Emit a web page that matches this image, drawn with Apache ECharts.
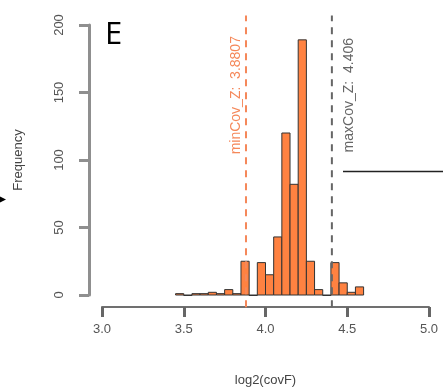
<!DOCTYPE html>
<html>
<head>
<meta charset="utf-8">
<script src="https://cdn.jsdelivr.net/npm/echarts@6/dist/echarts.min.js"></script>
<style>
html,body{margin:0;padding:0;background:#fff;}
#chart{width:443px;height:391px;}
</style>
</head>
<body>
<div id="chart"></div>
<script>
// Histogram bins (left edge, right edge) and frequencies
const binStarts = [3.45,3.50,3.55,3.60,3.65,3.70,3.75,3.80,3.85,3.90,3.95,4.00,4.05,4.10,4.15,4.20,4.25,4.30,4.35,4.40,4.45,4.50,4.55];
const binWidth = 0.05;
const counts    = [1,0,1,1,2,1,4,1,25,0,24,15,43,120,82,189,25,4,0,24,9,2,6];
const xTicks = [3.0,3.5,4.0,4.5,5.0];
const yTicks = [0,50,100,150,200];
const minCov = 3.8807;
const maxCov = 4.406;
const minLabel = 'minCov_Z:  3.8807';
const maxLabel = 'maxCov_Z:  4.406';

const bars = binStarts.map((s,i)=>[s, s+binWidth, counts[i]]);
const FONT = '"Liberation Sans", Arial, sans-serif';
const ORANGE = '#FF8241';
const AXC = '#707070';
const AXL = '#8f8f8f';
const chart = echarts.init(document.getElementById('chart'));

const option = {
  animation:false,
  backgroundColor:'#fff',
  grid:{left:102, right:14, top:25, bottom:96, containLabel:false, outerBoundsMode:'none'},
  xAxis:{
    type:'value', min:3.0, max:5.0, interval:0.5, offset:12,
    axisLine:{show:true, onZero:false, lineStyle:{color:AXC, width:2}},
    axisTick:{show:true, inside:false, length:10, lineStyle:{color:'#666', width:3}},
    axisLabel:{color:'#555', fontFamily:FONT, fontSize:13, margin:16,
      formatter:v=>v.toFixed(1)},
    splitLine:{show:false},
    name:'log2(covF)', nameLocation:'middle', nameGap:67,
    nameTextStyle:{color:'#444', fontFamily:FONT, fontSize:13}
  },
  yAxis:{
    type:'value', min:0, max:200, interval:50, offset:13,
    axisLine:{show:true, onZero:false, lineStyle:{color:AXL, width:3}},
    axisTick:{show:true, length:10, lineStyle:{color:AXL, width:3}},
    axisLabel:{color:'#555', fontFamily:FONT, fontSize:13, rotate:90, margin:23},
    splitLine:{show:false},
    name:'Frequency', nameLocation:'middle', nameGap:64, nameRotate:90,
    nameTextStyle:{color:'#444', fontFamily:FONT, fontSize:13}
  },
  series:[
    {
      type:'custom',
      data:bars,
      encode:{x:[0,1], y:2},
      renderItem:(params, api)=>{
        const p0 = api.coord([api.value(0), 0]);
        const p1 = api.coord([api.value(1), api.value(2)]);
        const h = p0[1]-p1[1];
        return {
          type:'rect',
          shape:{x:p0[0], y:p1[1], width:p1[0]-p0[0], height:Math.max(h,0.5)},
          style:{fill:ORANGE, stroke:'#333', lineWidth:1}
        };
      }
    },
    {
      type:'line', data:[[minCov,-9],[minCov,207]], clip:false, symbol:'none',
      lineStyle:{color:'#F5885A', width:2, type:[7,6]}
    },
    {
      type:'line', data:[[maxCov,-9],[maxCov,207]], clip:false, symbol:'none',
      lineStyle:{color:'#666', width:2, type:[7,6]}
    }
  ]
};
chart.setOption(option);

const pMin = chart.convertToPixel({gridIndex:0}, [minCov, 148]);
const pMax = chart.convertToPixel({gridIndex:0}, [maxCov, 148]);
chart.setOption({
  graphic:[
    {type:'text', x:pMin[0]-10, y:pMin[1], rotation:Math.PI/2,
      style:{text:minLabel, fill:'#F5885A', font:'14px '+FONT, align:'center', verticalAlign:'middle'}},
    {type:'text', x:pMax[0]+17, y:pMax[1], rotation:Math.PI/2,
      style:{text:maxLabel, fill:'#666', font:'14px '+FONT, align:'center', verticalAlign:'middle'}},
    {type:'text', left:105, top:20,
      style:{text:'E', fill:'#000', font:'31px "Open Sans", "Liberation Sans", sans-serif'}},
    {type:'line', shape:{x1:343, y1:171.5, x2:443, y2:171.5}, style:{stroke:'#222', lineWidth:1.5}},
    {type:'polygon', shape:{points:[[0,196.5],[6,199.5],[0,202.5]]}, style:{fill:'#000'}}
  ]
});
</script>
</body>
</html>
